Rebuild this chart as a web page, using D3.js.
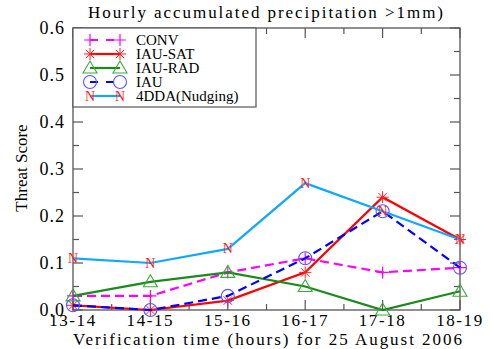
<!DOCTYPE html>
<html>
<head>
<meta charset="utf-8">
<script src="https://cdn.jsdelivr.net/npm/d3@7"></script>
<style>
  body { margin: 0; background: #fff; }
</style>
</head>
<body>
<div id="chart"></div>
<script>
// data
var categories = ["13-14", "14-15", "15-16", "16-17", "17-18", "18-19"];
var conv   = [0.03, 0.03, 0.08, 0.11, 0.08, 0.09];
var iauSat = [0.01, 0.00, 0.02, 0.08, 0.24, 0.15];
var iauRad = [0.03, 0.06, 0.08, 0.05, 0.00, 0.04];
var iau    = [0.01, 0.00, 0.03, 0.11, 0.21, 0.09];
var nudge  = [0.11, 0.10, 0.13, 0.27, 0.21, 0.15];
var yTicks = [0, 0.1, 0.2, 0.3, 0.4, 0.5, 0.6];

var series = [
  {name: "CONV", values: conv, line: "#ff00ff", mark: "#ff00ff", dash: "9,5", sym: "plus"},
  {name: "IAU-SAT", values: iauSat, line: "#ff0000", mark: "#ff2020", dash: null, sym: "star"},
  {name: "IAU-RAD", values: iauRad, line: "#1a8a1a", mark: "#3aaa3a", dash: null, sym: "tri"},
  {name: "IAU", values: iau, line: "#0000ff", mark: "#5555ff", dash: "9,5", sym: "circle"},
  {name: "4DDA(Nudging)", values: nudge, line: "#10a8ff", mark: "#ff2020", dash: null, sym: "N"}
];

var width = 493, height = 349;
var pLeft = 73, pRight = 460, pTop = 28, pBottom = 310;
var serif = "'Liberation Serif', 'Times New Roman', 'DejaVu Serif', serif";

var svg = d3.select("#chart").append("svg")
  .attr("width", width).attr("height", height)
  .attr("font-family", serif);

var x = d3.scalePoint().domain(categories).range([pLeft, pRight]);
var y = d3.scaleLinear().domain([0, 0.6]).range([pBottom, pTop]);

// minor/major ticks, drawn inward on all four sides
var frame = "#555";
var xIdx = d3.range(0, categories.length - 0.5, 0.5);
var xl = d3.scaleLinear().domain([0, categories.length - 1]).range([pLeft, pRight]);
var yMinor = d3.range(0, 0.601, 0.05);

var ticks = svg.append("g").attr("stroke", frame).attr("stroke-width", 1.2);
xIdx.forEach(function (i) {
  var len = (i % 1 === 0) ? 10 : 6;
  ticks.append("line").attr("x1", xl(i)).attr("x2", xl(i)).attr("y1", pBottom).attr("y2", pBottom - len);
  ticks.append("line").attr("x1", xl(i)).attr("x2", xl(i)).attr("y1", pTop).attr("y2", pTop + len);
});
yMinor.forEach(function (v, i) {
  var len = (i % 2 === 0) ? 10 : 6;
  ticks.append("line").attr("x1", pLeft).attr("x2", pLeft + len).attr("y1", y(v)).attr("y2", y(v));
  ticks.append("line").attr("x1", pRight).attr("x2", pRight - len).attr("y1", y(v)).attr("y2", y(v));
});

svg.append("rect")
  .attr("x", pLeft).attr("y", pTop)
  .attr("width", pRight - pLeft).attr("height", pBottom - pTop)
  .attr("fill", "none").attr("stroke", frame).attr("stroke-width", 1.3);

// tick labels
svg.append("g").selectAll("text").data(yTicks).enter().append("text")
  .attr("x", pLeft - 8).attr("y", function (d) { return y(d) + 6; })
  .attr("text-anchor", "end").attr("font-size", 18).attr("letter-spacing", 1)
  .text(function (d) { return d3.format(".1f")(d); });

svg.append("g").selectAll("text").data(categories).enter().append("text")
  .attr("x", function (d) { return x(d); }).attr("y", pBottom + 16)
  .attr("text-anchor", "middle").attr("font-size", 17).attr("letter-spacing", 1.6)
  .text(function (d) { return d; });

// titles
svg.append("text").attr("x", 88).attr("y", 18)
  .attr("font-size", 17).attr("textLength", 355).attr("lengthAdjust", "spacing")
  .text("Hourly accumulated precipitation >1mm)");
svg.append("text").attr("x", 73).attr("y", 345)
  .attr("font-size", 17).attr("textLength", 389).attr("lengthAdjust", "spacing")
  .text("Verification time (hours) for 25 August 2006");
svg.append("text")
  .attr("transform", "translate(27,168) rotate(-90)")
  .attr("text-anchor", "middle").attr("font-size", 17)
  .text("Threat Score");

function drawSymbol(g, s, cx, cy) {
  if (s.sym === "plus") {
    g.append("path").attr("d", "M" + (cx - 6) + "," + cy + "h12M" + cx + "," + (cy - 6) + "v12")
      .attr("stroke", s.mark).attr("stroke-width", 1.2).attr("fill", "none");
  } else if (s.sym === "star") {
    var p = "";
    for (var k = 0; k < 4; k++) {
      var a = k * Math.PI / 4;
      p += "M" + (cx - 6 * Math.cos(a)) + "," + (cy - 6 * Math.sin(a)) + "L" + (cx + 6 * Math.cos(a)) + "," + (cy + 6 * Math.sin(a));
    }
    g.append("path").attr("d", p).attr("stroke", s.mark).attr("stroke-width", 1).attr("fill", "none");
  } else if (s.sym === "tri") {
    g.append("path").attr("d", "M" + cx + "," + (cy - 7) + "L" + (cx + 7) + "," + (cy + 5) + "L" + (cx - 7) + "," + (cy + 5) + "Z")
      .attr("stroke", s.mark).attr("stroke-width", 1.1).attr("fill", "none");
  } else if (s.sym === "circle") {
    g.append("circle").attr("cx", cx).attr("cy", cy).attr("r", 6.5)
      .attr("stroke", s.mark).attr("stroke-width", 1.1).attr("fill", "none");
  } else if (s.sym === "N") {
    g.append("text").attr("x", cx).attr("y", cy + 4.5).attr("text-anchor", "middle")
      .attr("font-size", 14).attr("fill", s.mark).text("N");
  }
}

var line = d3.line()
  .x(function (d, i) { return x(categories[i]); })
  .y(function (d) { return y(d); });

series.forEach(function (s) {
  var g = svg.append("g");
  g.append("path").attr("d", line(s.values))
    .attr("fill", "none").attr("stroke", s.line).attr("stroke-width", 2.2)
    .attr("stroke-dasharray", s.dash);
  s.values.forEach(function (v, i) { drawSymbol(g, s, x(categories[i]), y(v)); });
});

// legend
var legend = svg.append("g");
legend.append("rect").attr("x", pLeft).attr("y", pTop)
  .attr("width", 183).attr("height", 79)
  .attr("fill", "#fff").attr("stroke", frame).attr("stroke-width", 1.2);
series.forEach(function (s, i) {
  var ly = 40 + i * 14;
  var g = legend.append("g");
  g.append("line").attr("x1", 90).attr("x2", 120).attr("y1", ly).attr("y2", ly)
    .attr("stroke", s.line).attr("stroke-width", 2.2).attr("stroke-dasharray", s.dash ? "8,8" : null);
  drawSymbol(g, s, 90, ly);
  drawSymbol(g, s, 120, ly);
  g.append("text").attr("x", 136).attr("y", ly + 5).attr("font-size", 15).text(s.name);
});
</script>
</body>
</html>
